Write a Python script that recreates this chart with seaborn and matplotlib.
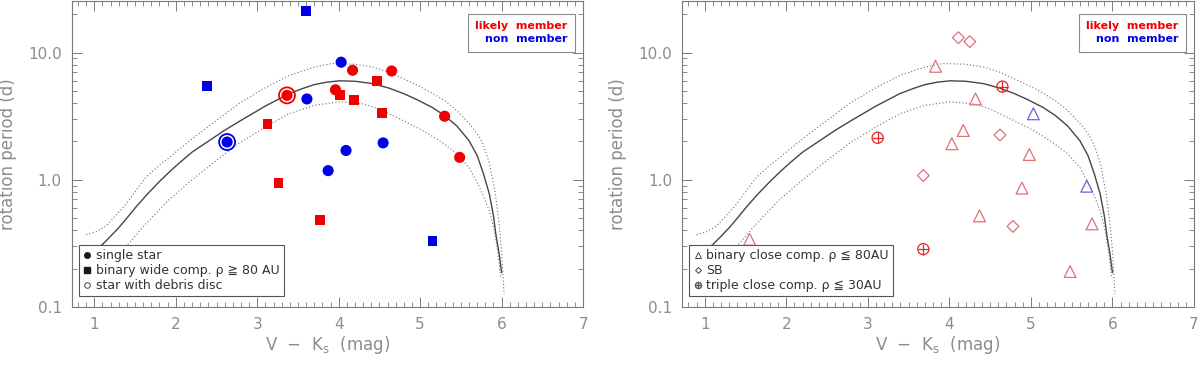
import pandas as pd
import matplotlib.pyplot as plt
import seaborn as sns
from matplotlib.lines import Line2D
from matplotlib.ticker import MultipleLocator, LogLocator, FormatStrFormatter, NullFormatter

# mean rotation sequence (solid) and its spread (dotted)
seq_x = [0.92, 1.00, 1.10, 1.20, 1.30, 1.40, 1.51, 1.65, 1.80, 1.92, 2.04, 2.20, 2.41,
         2.60, 2.80, 3.10, 3.39, 3.55, 3.70, 3.85, 4.01, 4.20, 4.42, 4.62, 4.80,
         4.95, 5.15, 5.30, 5.45, 5.60, 5.70, 5.78, 5.85, 5.90, 5.93, 5.97, 6.00]
seq_p = [0.27, 0.28, 0.31, 0.36, 0.42, 0.50, 0.61, 0.77, 0.97, 1.15, 1.35, 1.65, 2.03,
         2.45, 2.93, 3.8, 4.75, 5.2, 5.6, 5.85, 6.0, 5.95, 5.7, 5.25, 4.75,
         4.3, 3.7, 3.2, 2.65, 2.03, 1.55, 1.1, 0.77, 0.52, 0.37, 0.26, 0.186]
upper_x = [0.90, 1.02, 1.14, 1.26, 1.39, 1.51, 1.63, 1.78, 1.92, 2.20, 2.50, 2.78,
           3.10, 3.39, 3.70, 3.92, 4.20, 4.42, 4.62, 4.80, 5.00, 5.15, 5.32, 5.45,
           5.55, 5.65, 5.74, 5.80, 5.85, 5.92, 5.97, 6.00, 6.03]
upper_p = [0.37, 0.39, 0.43, 0.52, 0.645, 0.82, 1.04, 1.27, 1.50, 2.1, 2.93, 4.0,
           5.3, 6.6, 7.7, 8.2, 8.1, 7.7, 7.0, 6.2, 5.4, 4.8, 4.1, 3.5,
           3.0, 2.55, 2.1, 1.7, 1.35, 0.8, 0.45, 0.275, 0.126]
lower_x = [1.30, 1.45, 1.59, 1.75, 1.92, 2.20, 2.50, 2.78, 3.10, 3.39, 3.70, 4.01,
           4.30, 4.50, 4.62, 4.80, 5.00, 5.15, 5.30, 5.45, 5.60, 5.70, 5.78, 5.85,
           5.91, 5.95, 5.99]
lower_p = [0.26, 0.33, 0.42, 0.54, 0.70, 1.0, 1.42, 1.95, 2.6, 3.3, 3.85, 4.1,
           3.95, 3.6, 3.3, 2.9, 2.5, 2.2, 1.9, 1.6, 1.25, 0.95, 0.74, 0.57,
           0.40, 0.28, 0.17]

# left panel: single stars and wide binaries
single_member_x = [4.17, 4.65, 3.96, 3.365, 5.30, 5.485]
single_member_p = [7.26, 7.17, 5.1, 4.61, 3.16, 1.50]
single_non_x = [4.03, 3.61, 2.63, 4.09, 3.87, 4.545]
single_non_p = [8.4, 4.32, 1.98, 1.70, 1.18, 1.95]
wide_member_x = [4.47, 4.02, 4.19, 4.53, 3.125, 3.26, 3.77]
wide_member_p = [5.98, 4.61, 4.26, 3.36, 2.75, 0.94, 0.48]
wide_non_x = [3.595, 2.38, 5.15]
wide_non_p = [21.2, 5.46, 0.331]
disc_member_x = [3.365]
disc_member_p = [4.61]
disc_non_x = [2.63]
disc_non_p = [1.98]

# right panel: close binaries, SB, triples
close_member_x = [3.83, 4.32, 4.17, 4.03, 4.98, 4.89, 4.37, 5.75, 1.55, 5.48]
close_member_p = [7.8, 4.32, 2.44, 1.92, 1.58, 0.86, 0.52, 0.45, 0.34, 0.19]
close_non_x = [5.03, 5.685]
close_non_p = [3.3, 0.89]
sb_x = [4.11, 4.25, 4.62, 3.68, 4.78]
sb_p = [13.1, 12.2, 2.25, 1.08, 0.43]
triple_x = [4.65, 3.12, 3.68]
triple_p = [5.4, 2.14, 0.285]

RED = '#f00000'
BLUE = '#0000e6'
PINK = '#e07078'
LBLUE = '#6464dc'
GREY = '#8c8c8c'

sns.set_theme(style='ticks')
plt.rcParams['font.family'] = ['DejaVu Sans']
plt.rcParams.update({
    'axes.edgecolor': '#7a7a7a', 'axes.linewidth': 0.8,
    'xtick.color': '#7a7a7a', 'ytick.color': '#7a7a7a',
    'xtick.labelcolor': GREY, 'ytick.labelcolor': GREY,
    'xtick.direction': 'in', 'ytick.direction': 'in',
    'xtick.top': True, 'ytick.right': True,
    'xtick.major.size': 7, 'ytick.major.size': 7,
    'xtick.minor.size': 3.5, 'ytick.minor.size': 3.5,
    'xtick.major.width': 0.7, 'ytick.major.width': 0.7,
    'xtick.minor.width': 0.6, 'ytick.minor.width': 0.6,
})

fig = plt.figure(figsize=(12, 3.65), dpi=100)
ax1 = fig.add_axes([0.0596, 0.159, 0.4263, 0.838])
ax2 = fig.add_axes([0.5683, 0.159, 0.4267, 0.838])


def scatter(ax, x, y, marker, ms, color, hollow=False, lw=1.0, z=3):
    sns.scatterplot(x=x, y=y, marker=marker, s=ms ** 2, color=color,
                    linewidth=lw, ax=ax, zorder=z, legend=False)
    coll = ax.collections[-1]
    if hollow:
        coll.set_facecolor('none')
        coll.set_edgecolor(color)
    else:
        coll.set_edgecolor('none')


for ax in (ax1, ax2):
    sns.lineplot(x=seq_x, y=seq_p, ax=ax, color='#454545', lw=1.0)
    sns.lineplot(x=upper_x, y=upper_p, ax=ax, color='#707070', lw=0.8, linestyle=(0, (1, 2)))
    sns.lineplot(x=lower_x, y=lower_p, ax=ax, color='#707070', lw=0.8, linestyle=(0, (1, 2)))

# left panel markers
scatter(ax1, disc_member_x, disc_member_p, 'o', 11.5, RED, hollow=True, lw=1.3)
scatter(ax1, disc_non_x, disc_non_p, 'o', 11.5, BLUE, hollow=True, lw=1.3)
scatter(ax1, single_member_x, single_member_p, 'o', 8, RED)
scatter(ax1, single_non_x, single_non_p, 'o', 8, BLUE)
scatter(ax1, wide_member_x, wide_member_p, 's', 7, RED)
scatter(ax1, wide_non_x, wide_non_p, 's', 7, BLUE)

# right panel markers
scatter(ax2, close_member_x, close_member_p, '^', 8.5, PINK, hollow=True, lw=0.9)
scatter(ax2, close_non_x, close_non_p, '^', 8.5, LBLUE, hollow=True, lw=0.9)
scatter(ax2, sb_x, sb_p, 'D', 6, PINK, hollow=True, lw=0.9)
scatter(ax2, triple_x, triple_p, 'o', 8, '#e02828', hollow=True, lw=0.9)
scatter(ax2, triple_x, triple_p, '+', 8, '#e02828', hollow=True, lw=0.9)

for ax in (ax1, ax2):
    ax.set_yscale('log')
    ax.set_xlim(0.72, 7.0)
    ax.set_ylim(0.1, 25.4)
    ax.xaxis.set_major_locator(MultipleLocator(1))
    ax.xaxis.set_minor_locator(MultipleLocator(0.1))
    ax.yaxis.set_major_locator(LogLocator(base=10, numticks=10))
    ax.yaxis.set_minor_locator(LogLocator(base=10, subs=range(2, 10), numticks=20))
    ax.yaxis.set_major_formatter(FormatStrFormatter('%.1f'))
    ax.yaxis.set_minor_formatter(NullFormatter())
    ax.tick_params(labelsize=11, pad=7)
    ax.set_xlabel(r'V  $-$  K$_\mathregular{s}$  (mag)', fontsize=12, color=GREY, labelpad=2)
    ax.set_ylabel('rotation period (d)', fontsize=12, color=GREY, labelpad=8)

    # membership colour key
    key = [Line2D([], [], ls='none'), Line2D([], [], ls='none')]
    leg = ax.legend(key, ['likely  member', 'non  member'], loc='upper right',
                    bbox_to_anchor=(0.984, 0.958), markerfirst=False, handlelength=0,
                    handletextpad=0, fancybox=False, edgecolor='#8a8a8a', framealpha=1,
                    borderpad=0.65, labelspacing=0.3, borderaxespad=0,
                    prop={'size': 8, 'weight': 'bold'})
    leg.get_frame().set_linewidth(0.8)
    leg.get_texts()[0].set_color(RED)
    leg.get_texts()[1].set_color(BLUE)
    ax.add_artist(leg)

sym_left = [
    Line2D([], [], marker='o', ls='none', color='k', ms=4),
    Line2D([], [], marker='s', ls='none', color='k', ms=4),
    Line2D([], [], marker='o', ls='none', mfc='none', mec='#444444', ms=4, mew=0.7),
]
lab_left = ['single star', 'binary wide comp. \u03c1 \u2267 80 AU', 'star with debris disc']
sym_right = [
    Line2D([], [], marker='^', ls='none', mfc='none', mec='#444444', ms=4, mew=0.7),
    Line2D([], [], marker='D', ls='none', mfc='none', mec='#444444', ms=3, mew=0.7),
    Line2D([], [], marker=r'$\oplus$', ls='none', color='#444444', ms=5, mew=0.3),
]
lab_right = ['binary close comp. \u03c1 \u2266 80AU', 'SB', 'triple close comp. \u03c1 \u2266 30AU']

for ax, h, l in ((ax1, sym_left, lab_left), (ax2, sym_right, lab_right)):
    lg = ax.legend(h, l, loc='lower left', bbox_to_anchor=(0.0147, 0.035), fancybox=False,
                   edgecolor='#555555', framealpha=1, handlelength=0.6, handletextpad=0.4,
                   borderpad=0.35, labelspacing=0.15, borderaxespad=0,
                   prop={'size': 9})
    lg.get_frame().set_linewidth(0.8)
    for t in lg.get_texts():
        t.set_color('#333333')

fig.savefig('out.png', dpi=100)
